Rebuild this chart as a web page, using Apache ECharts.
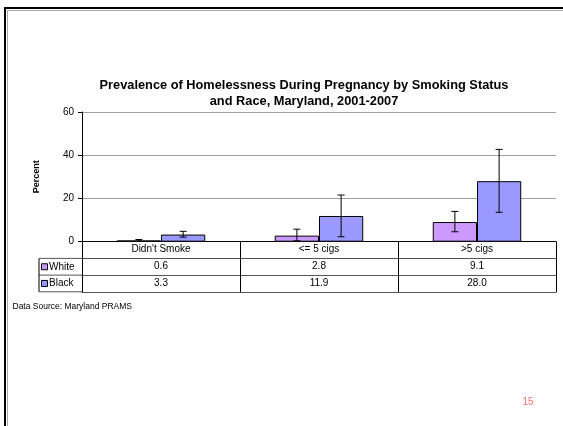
<!DOCTYPE html>
<html>
<head>
<meta charset="utf-8">
<script src="https://cdn.jsdelivr.net/npm/echarts@6/dist/echarts.min.js"></script>
<style>
html,body{margin:0;padding:0;background:#fff;}
#c{width:563px;height:426px;}
</style>
</head>
<body>
<div id="c"></div>
<script>
const categories = ["Didn't Smoke", "<= 5 cigs", ">5 cigs"];
const seriesNames = ["White", "Black"];
const whiteValues = [0.6, 2.8, 9.1];
const blackValues = [3.3, 11.9, 28.0];
const whiteLow = [0.2, 0.4, 4.6];
const whiteHigh = [1.0, 5.8, 14.0];
const blackLow = [2.1, 2.3, 13.6];
const blackHigh = [4.8, 21.6, 42.7];
const yTicks = [0, 20, 40, 60];

const FONT = 'Liberation Sans, Arial, sans-serif';
const colWhite = '#cc99ff';
const colBlack = '#9999ff';
const GAP = 0.44;

const chart = echarts.init(document.getElementById('c'), null, {renderer: 'canvas'});

function errItem(offsetSign, lows, highs) {
  return function (params, api) {
    const i = params.dataIndex;
    const catW = api.size([1, 0])[0];
    const bw = catW * (1 - GAP) / 2;
    const dx = offsetSign * bw / 2;
    const pLo = api.coord([i, lows[i]]);
    const pHi = api.coord([i, highs[i]]);
    const x = pLo[0] + dx;
    const cap = 3.5;
    const style = {stroke: '#000', lineWidth: 1};
    return {
      type: 'group',
      children: [
        {type: 'line', shape: {x1: x, y1: pLo[1], x2: x, y2: pHi[1]}, style: style},
        {type: 'line', shape: {x1: x - cap, y1: pLo[1], x2: x + cap, y2: pLo[1]}, style: style},
        {type: 'line', shape: {x1: x - cap, y1: pHi[1], x2: x + cap, y2: pHi[1]}, style: style}
      ]
    };
  };
}

const rowAxisBase = {
  type: 'category', position: 'bottom', gridIndex: 0,
  axisLine: {show: true, lineStyle: {color: '#555', width: 1}},
  axisTick: {show: false},
  axisLabel: {fontFamily: FONT, fontSize: 10, color: '#000', margin: 3, interval: 0}
};

const option = {
  animation: false,
  backgroundColor: '#fff',
  title: {
    text: 'Prevalence of Homelessness During Pregnancy by Smoking Status\nand Race, Maryland, 2001-2007',
    left: 299, top: 73, textAlign: 'center',
    textStyle: {fontFamily: FONT, fontSize: 12.8, fontWeight: 'bold', color: '#000', lineHeight: 15.5}
  },
  grid: {left: 82, right: 7, top: 112, bottom: 184.3, containLabel: false},
  xAxis: [
    {
      type: 'category', data: categories, position: 'bottom',
      axisLine: {show: true, lineStyle: {color: '#000', width: 1}},
      axisTick: {show: true, length: 50.3, interval: 0, lineStyle: {color: '#000'}},
      axisLabel: {fontFamily: FONT, fontSize: 10, color: '#000', margin: 3, interval: 0}
    },
    Object.assign({}, rowAxisBase, {data: whiteValues.map(v => v.toFixed(1)), offset: 16.7}),
    Object.assign({}, rowAxisBase, {data: blackValues.map(v => v.toFixed(1)), offset: 33.4}),
    Object.assign({}, rowAxisBase, {data: categories, offset: 50.3, axisLabel: {show: false}})
  ],
  yAxis: {
    type: 'value', min: yTicks[0], max: yTicks[yTicks.length - 1], interval: 20,
    name: 'Percent', nameLocation: 'middle', nameGap: 41,
    nameTextStyle: {fontFamily: FONT, fontSize: 9, fontWeight: 'bold', color: '#000'},
    axisLine: {show: true, lineStyle: {color: '#000'}},
    axisTick: {show: true, length: 4, lineStyle: {color: '#000'}},
    axisLabel: {fontFamily: FONT, fontSize: 10, color: '#000', margin: 8},
    splitLine: {show: true, lineStyle: {color: '#a0a0a0', width: 1}}
  },
  series: [
    {
      name: seriesNames[0], type: 'bar', data: whiteValues, barGap: '0%', barCategoryGap: (GAP * 100) + '%',
      itemStyle: {color: colWhite, borderColor: '#000', borderWidth: 1}
    },
    {
      name: seriesNames[1], type: 'bar', data: blackValues, barGap: '0%', barCategoryGap: (GAP * 100) + '%',
      itemStyle: {color: colBlack, borderColor: '#000', borderWidth: 1}
    },
    {type: 'custom', renderItem: errItem(-1, whiteLow, whiteHigh), data: whiteValues.map((v, i) => [i, whiteHigh[i]]), z: 5},
    {type: 'custom', renderItem: errItem(1, blackLow, blackHigh), data: blackValues.map((v, i) => [i, blackHigh[i]]), z: 5}
  ]
};
chart.setOption(option);

const yZero = chart.convertToPixel({yAxisIndex: 0}, 0);
const axisLeft = 82;
const legLeft = 39;
const rowH = 16.7;
const g = [];
[1, 2, 3].forEach(k => {
  g.push({type: 'line', shape: {x1: legLeft, y1: yZero + k * rowH, x2: axisLeft, y2: yZero + k * rowH}, style: {stroke: '#555', lineWidth: 1}});
});
g.push({type: 'line', shape: {x1: legLeft, y1: yZero + rowH, x2: legLeft, y2: yZero + 3 * rowH}, style: {stroke: '#000', lineWidth: 1}});
[colWhite, colBlack].forEach((c, k) => {
  const cy = yZero + rowH * (k + 1.5);
  g.push({type: 'rect', shape: {x: 41.5, y: cy - 3, width: 6, height: 6}, style: {fill: c, stroke: '#000', lineWidth: 1}});
  g.push({type: 'text', style: {text: seriesNames[k], x: 49, y: cy, fontFamily: FONT, fontSize: 10, fill: '#000', verticalAlign: 'middle'}});
});
g.push({type: 'rect', shape: {x: 5, y: 8, width: 600, height: 500}, style: {fill: 'none', stroke: '#000', lineWidth: 2}});
g.push({type: 'line', shape: {x1: 7, y1: 10.5, x2: 563, y2: 10.5}, style: {stroke: '#aaa', lineWidth: 1}});
g.push({type: 'line', shape: {x1: 7.5, y1: 10, x2: 7.5, y2: 426}, style: {stroke: '#aaa', lineWidth: 1}});
g.push({type: 'text', style: {text: 'Data Source: Maryland PRAMS', x: 12.5, y: 307, fontFamily: FONT, fontSize: 8.5, fill: '#000', verticalAlign: 'middle'}});
g.push({type: 'text', style: {text: '15', x: 528, y: 402, fontFamily: FONT, fontSize: 10, fill: '#ff6f6f', align: 'center', verticalAlign: 'middle'}});
chart.setOption({graphic: g});
</script>
</body>
</html>
